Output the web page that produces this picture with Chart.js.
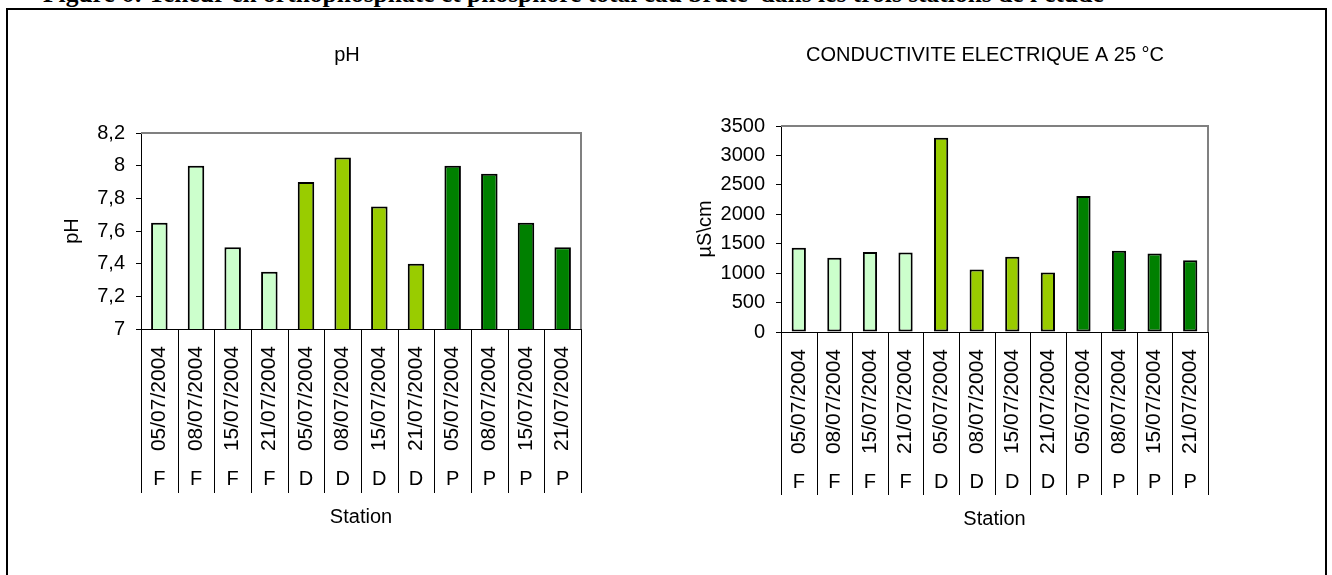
<!DOCTYPE html>
<html>
<head>
<meta charset="utf-8">
<script src="https://cdn.jsdelivr.net/npm/chart.js@4.4.0/dist/chart.umd.min.js"></script>
<style>
html,body{margin:0;padding:0;background:#fff;}
body{width:1332px;height:575px;overflow:hidden;position:relative;font-family:"Liberation Sans",Arial,sans-serif;}
#frame{position:absolute;left:6px;top:8px;width:1321px;height:600px;border:2px solid #000;border-bottom:none;box-sizing:border-box;}
#caption{position:absolute;left:43px;top:-19px;font-family:"Liberation Serif","Times New Roman",serif;font-weight:bold;font-size:25.5px;line-height:25px;white-space:nowrap;color:#000;}
canvas{position:absolute;}
#c1{left:12px;top:12px;}
#c2{left:690px;top:12px;}
</style>
</head>
<body>
<div id="caption">Figure 6: Teneur en orthophosphate et phosphore total eau brute&nbsp; dans les trois stations de l'étude</div>
<div id="frame"></div>
<canvas id="c1" width="670" height="550"></canvas>
<canvas id="c2" width="590" height="550"></canvas>
<script>
// ---- data ----
const dates = ['05/07/2004','08/07/2004','15/07/2004','21/07/2004','05/07/2004','08/07/2004','15/07/2004','21/07/2004','05/07/2004','08/07/2004','15/07/2004','21/07/2004'];
const stations = ['F','F','F','F','D','D','D','D','P','P','P','P'];
const phValues = [7.65, 8.0, 7.5, 7.35, 7.9, 8.05, 7.75, 7.4, 8.0, 7.95, 7.65, 7.5];
const conductivityValues = [1430, 1260, 1360, 1350, 3300, 1060, 1280, 1010, 2310, 1380, 1335, 1220];
const phAxis = {min: 7, max: 8.2, step: 0.2};
const condAxis = {min: 0, max: 3500, step: 500};

// ---- style ----
const stationColors = {F: '#CCFFCC', D: '#99CC00', P: '#008000'};
const FONT = '"Liberation Sans", Arial, sans-serif';
const FS = 20;

const decor = {
  id: 'decor',
  afterDraw(chart, args, o) {
    const {ctx, chartArea: a, scales} = chart;
    ctx.save();
    ctx.strokeStyle = '#808080';
    ctx.lineWidth = 2;
    ctx.beginPath();
    ctx.moveTo(a.left, a.top);
    ctx.lineTo(a.right, a.top);
    ctx.lineTo(a.right, a.bottom);
    ctx.stroke();
    const xs = scales.x, x2 = scales.x2;
    const n = xs.getLabels().length;
    const yEnd = x2.top + o.sepDepth;
    ctx.strokeStyle = '#000';
    ctx.lineWidth = 1;
    ctx.beginPath();
    for (let i = 0; i <= n; i++) {
      const px = Math.round(xs.getPixelForValue(i - 0.5)) + 0.5;
      ctx.moveTo(px, a.bottom);
      ctx.lineTo(px, yEnd);
    }
    ctx.stroke();
    ctx.fillStyle = '#000';
    ctx.font = FS + 'px ' + FONT;
    ctx.textAlign = 'center';
    ctx.textBaseline = 'middle';
    ctx.fillText(o.title, chart.width / 2, o.titleY);
    ctx.restore();
  }
};

function makeChart(id, values, axis, cfg) {
  return new Chart(document.getElementById(id), {
    type: 'bar',
    data: {
      labels: dates,
      datasets: [{
        data: values,
        backgroundColor: stations.map(s => stationColors[s]),
        borderColor: '#000',
        borderWidth: 2,
        borderSkipped: false,
        barPercentage: cfg.barPct,
        categoryPercentage: 1
      }]
    },
    options: {
      responsive: false,
      animation: false,
      events: [],
      layout: {padding: cfg.padding},
      plugins: {
        legend: {display: false},
        tooltip: {enabled: false},
        decor: {title: cfg.title, titleY: cfg.titleY, sepDepth: cfg.sepDepth}
      },
      scales: {
        x: {
          type: 'category',
          offset: true,
          weight: 0,
          grid: {display: false},
          border: {display: true, color: '#000', width: 1},
          ticks: {autoSkip: false, minRotation: 90, maxRotation: 90, padding: 9,
                  color: '#000', font: {family: FONT, size: 21}},
          afterFit: s => { s.height = cfg.xHeight; }
        },
        x2: {
          type: 'category',
          labels: stations,
          position: 'bottom',
          offset: true,
          weight: 1,
          grid: {display: false},
          border: {display: false},
          ticks: {autoSkip: false, maxRotation: 0, minRotation: 0, padding: 7,
                  color: '#000', font: {family: FONT, size: FS}},
          title: {display: true, text: 'Station', color: '#000',
                  font: {family: FONT, size: FS}, padding: {top: 0, bottom: 4}},
          afterFit: s => { s.height = cfg.x2Height; }
        },
        y: {
          min: axis.min,
          max: axis.max,
          grid: {display: true, drawOnChartArea: false, drawTicks: true, tickLength: 5, color: '#000'},
          border: {display: true, color: '#000', width: 1},
          ticks: {stepSize: axis.step, padding: cfg.tickPad, color: '#000',
                  font: {family: FONT, size: FS}, callback: cfg.fmt},
          title: {display: true, text: cfg.yTitle, color: '#000',
                  font: {family: FONT, size: FS}, padding: {top: cfg.yTitlePad, bottom: 0}},
          afterFit: s => { s.width = cfg.yWidth; }
        }
      }
    },
    plugins: [decor]
  });
}

makeChart('c1', phValues, phAxis, {
  title: 'pH', titleY: 43, sepDepth: 41, barPct: 0.45,
  padding: {top: 121, right: 101, bottom: 29, left: 0},
  xHeight: 123, x2Height: 81, yWidth: 129, yTitle: 'pH', yTitlePad: 48, tickPad: 11,
  fmt: v => String(Math.round(v * 10) / 10).replace('.', ',')
});

makeChart('c2', conductivityValues, condAxis, {
  title: 'CONDUCTIVITE ELECTRIQUE A 25 °C', titleY: 43, sepDepth: 40, barPct: 0.40,
  padding: {top: 114, right: 72, bottom: 27, left: 0},
  xHeight: 123, x2Height: 80, yWidth: 91, yTitle: 'µS\\cm', yTitlePad: 3, tickPad: 11,
  fmt: v => String(Math.round(v))
});
</script>
</body>
</html>
